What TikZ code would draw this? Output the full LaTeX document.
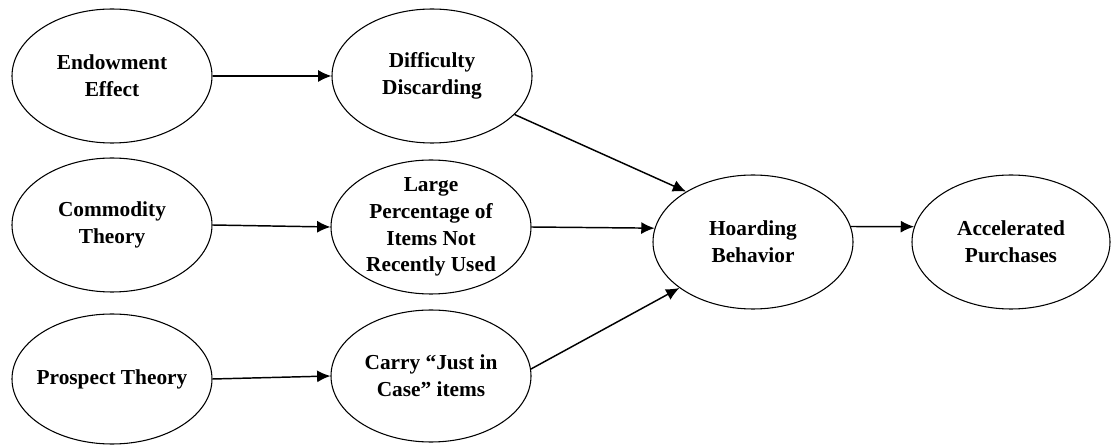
\documentclass[tikz,border=0pt]{standalone}
\usepackage{fontspec}
\setmainfont{Liberation Serif}
\usetikzlibrary{arrows.meta,shapes.geometric}
\tikzset{
  bubble/.style={draw, ellipse, line width=0.8pt, minimum width=150pt,
    minimum height=100.5pt, inner sep=0pt},
  caption/.style={font=\fontsize{16}{20}\selectfont\bfseries, align=center, inner sep=0pt},
  link/.style={line width=1.1pt, -{Latex[length=10pt,width=9pt]}}
}
\begin{document}
\begin{tikzpicture}[x=0.75pt, y=-0.75pt]
\useasboundingbox (0,0) rectangle (1111,445);
% Theories
\node[bubble, label={[caption]center:Endowment\\Effect}] (endow) at (112,76) {};
\node[bubble, label={[caption]center:Commodity\\Theory}] (commod) at (112,225) {};
\node[bubble, minimum height=97.5pt, label={[caption]center:Prospect Theory}] (prosp) at (112,379) {};
% Behaviours
\node[bubble, label={[caption]center:Difficulty\\Discarding}] (diffic) at (432,76) {};
\node[bubble, label={[caption]center:Large\\Percentage of\\Items Not\\Recently Used}] (large) at (431,227) {};
\node[bubble, minimum height=99pt, label={[caption]center:Carry “Just in\\Case” items}] (carry) at (431,376) {};
% Outcome
\node[bubble, label={[caption]center:Hoarding\\Behavior}] (hoard) at (753,242) {};
\node[bubble, minimum width=148.5pt, label={[caption]center:Accelerated\\Purchases}] (accel) at (1011,242) {};

\draw[link] (endow.east) -- (diffic.west);
\draw[link] (commod.east) -- (large.west);
\draw[link] (prosp.east) -- (carry.west);
\draw[link] (diffic.335) -- (hoard.143);
\draw[link] (large.east) -- (hoard.172);
\draw[link] (carry.4) -- (hoard.212);
\draw[link] (hoard.9) -- (accel.171);
\end{tikzpicture}
\end{document}
